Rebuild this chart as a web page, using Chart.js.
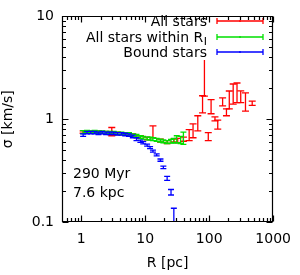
<!DOCTYPE html>
<html><head><meta charset="utf-8">
<script src="https://cdn.jsdelivr.net/npm/chart.js@4/dist/chart.umd.min.js"></script>
<style>html,body{margin:0;padding:0;background:#fff;}#wrap{width:300px;height:275px;}</style>
</head><body><div id="wrap"><canvas id="c" width="300" height="275"></canvas></div>
<script>
// ---- data ----
const allR     = [1.07,1.41,1.86,2.45,3.0,3.69,4.86,6.4,8.4,10.7,13.2,17.3,22.0,28.0,32.2,39.5,48.6,55.9,66.3,78.7,84.2,96.7,107,123,136,162,186,206,237,272,311,369,470];
const allSigma = [0.75,0.75,0.75,0.74,0.76,0.73,0.72,0.70,0.67,0.65,0.76,0.62,0.60,0.62,0.62,0.64,0.705,0.78,0.925,1.42,2.81,0.68,1.34,1.01,0.89,1.48,1.17,1.57,1.80,1.85,1.67,1.50,1.43];
const allErr   = [0.02,0.02,0.02,0.02,0.07,0.02,0.02,0.02,0.02,0.02,0.10,0.02,0.02,0.02,0.03,0.03,0.085,0.12,0.155,0.27,1.13,0.06,0.21,0.045,0.09,0.13,0.09,0.31,0.40,0.40,0.22,0.30,0.07];

const rjR     = [1.07,1.23,1.41,1.62,1.86,2.13,2.45,2.80,3.21,3.69,4.24,4.86,5.57,6.4,7.3,8.4,9.3,10.7,11.9,13.2,15.1,17.3,19.2,22.0,25.3,28.0,31.1,35.7,39.5];
const rjSigma = [0.75,0.76,0.75,0.76,0.75,0.75,0.74,0.74,0.74,0.73,0.73,0.72,0.72,0.70,0.69,0.67,0.66,0.65,0.65,0.64,0.63,0.62,0.61,0.60,0.61,0.62,0.64,0.63,0.66];
const rjErr   = [0.025,0.02,0.02,0.02,0.02,0.02,0.02,0.02,0.02,0.02,0.02,0.02,0.02,0.02,0.02,0.02,0.02,0.02,0.02,0.02,0.02,0.02,0.02,0.02,0.025,0.03,0.05,0.05,0.09];

const boundR     = [1.07,1.23,1.41,1.62,1.86,2.13,2.45,2.80,3.21,3.69,4.24,4.86,5.57,6.4,7.3,8.4,9.3,10.7,11.9,13.2,15.1,17.3,19.2,22.0,25.3,28.0];
const boundSigma = [0.70,0.74,0.74,0.74,0.73,0.74,0.73,0.73,0.73,0.72,0.72,0.71,0.70,0.68,0.64,0.61,0.59,0.56,0.53,0.49,0.45,0.40,0.34,0.266,0.195,0.118];
const boundErr   = [0.02,0.02,0.02,0.02,0.02,0.02,0.02,0.02,0.02,0.02,0.02,0.02,0.02,0.02,0.02,0.015,0.014,0.013,0.012,0.011,0.010,0.010,0.010,0.012,0.012,0.018];

const xTicks = [1,10,100,1000];
const yTicks = [0.1,1,10];
const seriesNames = ['All stars','All stars within R','Bound stars'];
const nameSubs = ['','J',''];
const noteLines = ['290 Myr','7.6 kpc'];

// ---- chart ----
const FONT = '"DejaVu Sans", Verdana, sans-serif';
const FS = 14;
const COLORS = ['#ff0000','#00e000','#0000ff'];
const LW = 1.3;
function pts(R,S,E){return R.map((r,i)=>({x:r,y:S[i],yMin:S[i]-E[i],yMax:S[i]+E[i]}));}

const errorBars = {
  id:'errorBars',
  afterDatasetsDraw(chart){
    const {ctx, chartArea:a, scales:{x,y}} = chart;
    ctx.save();
    ctx.beginPath(); ctx.rect(a.left,a.top,a.right-a.left,a.bottom-a.top); ctx.clip();
    ctx.lineWidth = LW;
    chart.data.datasets.forEach((ds,di)=>{
      const cap = di===0 ? 3.5 : 3;
      ctx.strokeStyle = COLORS[di];
      ds.data.forEach(p=>{
        const px = x.getPixelForValue(p.x);
        const y0 = y.getPixelForValue(Math.max(p.yMin,1e-4));
        const y1 = y.getPixelForValue(p.yMax);
        ctx.beginPath();
        ctx.moveTo(px,y0); ctx.lineTo(px,y1);
        ctx.moveTo(px-cap,y0); ctx.lineTo(px+cap,y0);
        ctx.moveTo(px-cap,y1); ctx.lineTo(px+cap,y1);
        ctx.stroke();
      });
    });
    ctx.restore();
  }
};

function drawLegendRow(ctx, i, label, sub, color){
  const yy = [21,37,52][i];
  const textRight = 207;
  const base = yy + 5;
  ctx.save();
  ctx.font = FS + 'px ' + FONT;
  let sw = 0;
  if (sub) { ctx.font = '11px ' + FONT; sw = ctx.measureText(sub).width + 0.5; ctx.font = FS + 'px ' + FONT; }
  const lw = ctx.measureText(label).width;
  ctx.fillStyle = '#fff';
  ctx.fillRect(textRight - sw - lw - 2, yy - 7, lw + sw + 4, 15);
  ctx.fillStyle = '#000';
  ctx.textAlign = 'right';
  ctx.textBaseline = 'alphabetic';
  ctx.fillText(label, textRight - sw, base);
  if (sub) {
    ctx.font = '11px ' + FONT;
    ctx.fillText(sub, textRight, base + 3);
  }
  ctx.restore();

  ctx.save();
  ctx.strokeStyle = color;
  ctx.lineWidth = LW;
  const yl = yy, x0 = 217, x1 = 263, xm = 240;
  ctx.beginPath();
  ctx.moveTo(x0,yl); ctx.lineTo(x1,yl);
  ctx.moveTo(x0,yl-3); ctx.lineTo(x0,yl+3);
  ctx.moveTo(x1,yl-3); ctx.lineTo(x1,yl+3);
  ctx.moveTo(xm,yl-1); ctx.lineTo(xm,yl+1);
  ctx.stroke();
  ctx.restore();
}

const frameAndDecor = {
  id:'frameAndDecor',
  afterDraw(chart){
    const {ctx, chartArea:a, scales:{x,y}} = chart;
    chart.data.datasets.forEach((ds,i)=> drawLegendRow(ctx, i, ds.label, nameSubs[i], COLORS[i]));

    ctx.save();
    ctx.strokeStyle = '#000'; ctx.lineWidth = 1.2;
    const L=Math.round(a.left)+0.5, R=Math.round(a.right)-0.5, T=Math.round(a.top)+0.5, B=Math.round(a.bottom)-0.5;
    ctx.beginPath();
    ctx.rect(L,T,R-L,B-T);
    for (let d=-1; d<=3; d++){
      for (let m=1; m<=9; m++){
        const v = m*Math.pow(10,d);
        if (v < x.min-1e-9 || v > x.max+1e-9) continue;
        const px = Math.round(x.getPixelForValue(v))+0.5;
        const len = m===1 ? 6 : 3.5;
        ctx.moveTo(px,B); ctx.lineTo(px,B-len);
        ctx.moveTo(px,T); ctx.lineTo(px,T+len);
      }
    }
    for (let d=-1; d<=1; d++){
      for (let m=1; m<=9; m++){
        const v = m*Math.pow(10,d);
        if (v < y.min-1e-9 || v > y.max+1e-9) continue;
        const py = Math.round(y.getPixelForValue(v))+0.5;
        const len = m===1 ? 6 : 3.5;
        ctx.moveTo(L,py); ctx.lineTo(L+len,py);
        ctx.moveTo(R,py); ctx.lineTo(R-len,py);
      }
    }
    ctx.stroke();
    ctx.restore();

    ctx.save();
    ctx.fillStyle = '#000';
    ctx.textAlign = 'left';
    ctx.textBaseline = 'alphabetic';
    ctx.font = FS + 'px ' + FONT;
    ctx.fillText(noteLines[0], 73, 178);
    ctx.fillText(noteLines[1], 73, 197);
    ctx.restore();
  }
};

const tickFont = {family: FONT, size: FS};
new Chart(document.getElementById('c'), {
  type:'scatter',
  data:{datasets:[
    {label:seriesNames[0], data:pts(allR,allSigma,allErr), borderColor:COLORS[0], backgroundColor:COLORS[0], pointRadius:0, showLine:false},
    {label:seriesNames[1], data:pts(rjR,rjSigma,rjErr), borderColor:COLORS[1], backgroundColor:COLORS[1], pointRadius:0, showLine:false},
    {label:seriesNames[2], data:pts(boundR,boundSigma,boundErr), borderColor:COLORS[2], backgroundColor:COLORS[2], pointRadius:0, showLine:false}
  ]},
  options:{
    responsive:false, animation:false, devicePixelRatio:1,
    layout:{padding:{top:15,right:17,left:0,bottom:0}},
    plugins:{legend:{display:false}, tooltip:{enabled:false}},
    scales:{
      x:{type:'logarithmic', min:0.5, max:1000,
        afterBuildTicks:s=>{s.ticks = xTicks.map(v=>({value:v}));},
        afterFit:s=>{s.height = 53;},
        ticks:{autoSkip:false, maxRotation:0, minRotation:0, padding:9, color:'#000', font:tickFont, callback:v=>String(v)},
        grid:{display:false, drawTicks:false}, border:{display:false},
        title:{display:true, text:'R [pc]', color:'#000', font:tickFont, padding:{top:0,bottom:3}}
      },
      y:{type:'logarithmic', min:0.1, max:10,
        afterBuildTicks:s=>{s.ticks = yTicks.map(v=>({value:v}));},
        afterFit:s=>{s.width = 62;},
        ticks:{autoSkip:false, padding:8, color:'#000', font:tickFont, callback:v=>String(v)},
        grid:{display:false, drawTicks:false}, border:{display:false},
        title:{display:true, text:'σ [km/s]', color:'#000', font:tickFont, padding:{top:0,bottom:0}}
      }
    }
  },
  plugins:[errorBars, frameAndDecor]
});
</script></body></html>
